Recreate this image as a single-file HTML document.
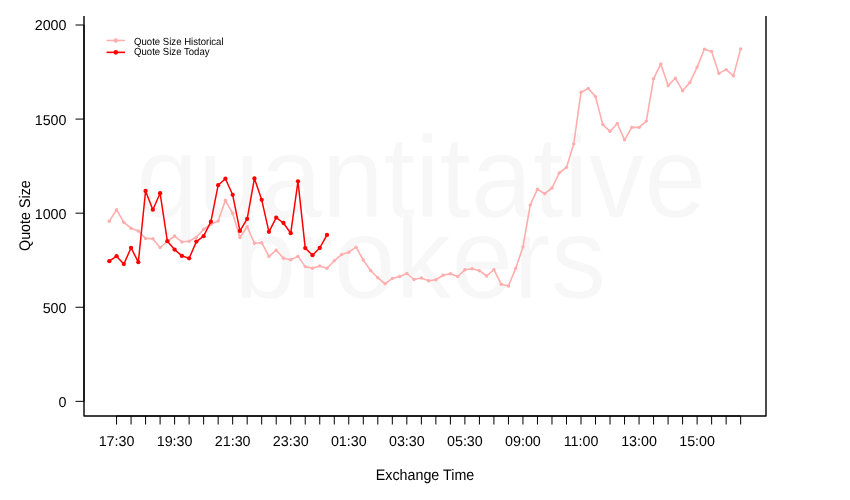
<!DOCTYPE html>
<html><head><meta charset="utf-8"><style>
html,body{margin:0;padding:0;background:#fff;width:850px;height:500px;overflow:hidden}
svg{display:block;font-family:"Liberation Sans",sans-serif;will-change:transform;text-rendering:geometricPrecision}
</style></head><body>
<svg width="850" height="500" viewBox="0 0 850 500">
<rect x="0" y="0" width="850" height="500" fill="#fff"/>
<g fill="#f7f7f7" stroke="#fff" stroke-width="0.6" font-family="Liberation Sans, sans-serif" font-size="116"><text transform="translate(135.9,217.2) scale(0.9614,1)">quantitative</text><text transform="translate(234.3,298.0) scale(0.9614,1)">brokers</text></g>
<path d="M84,16 V416 H766 V16" fill="none" stroke="#000" stroke-width="1.4" stroke-linejoin="round"/>
<path d="M84,25.00 V401.35" stroke="#000" stroke-width="1.2" fill="none"/>
<path d="M84,401.35 H75.5" stroke="#000" stroke-width="1" fill="none"/>
<path d="M84,307.26 H75.5" stroke="#000" stroke-width="1" fill="none"/>
<path d="M84,213.18 H75.5" stroke="#000" stroke-width="1" fill="none"/>
<path d="M84,119.09 H75.5" stroke="#000" stroke-width="1" fill="none"/>
<path d="M84,25.00 H75.5" stroke="#000" stroke-width="1" fill="none"/>
<path d="M116.56,416 H740.66" stroke="#000" stroke-width="1.2" fill="none"/>
<path d="M116.56,416 V424.5" stroke="#000" stroke-width="1" fill="none"/>
<path d="M131.07,416 V424.5" stroke="#000" stroke-width="1" fill="none"/>
<path d="M145.58,416 V424.5" stroke="#000" stroke-width="1" fill="none"/>
<path d="M160.10,416 V424.5" stroke="#000" stroke-width="1" fill="none"/>
<path d="M174.61,416 V424.5" stroke="#000" stroke-width="1" fill="none"/>
<path d="M189.13,416 V424.5" stroke="#000" stroke-width="1" fill="none"/>
<path d="M203.64,416 V424.5" stroke="#000" stroke-width="1" fill="none"/>
<path d="M218.15,416 V424.5" stroke="#000" stroke-width="1" fill="none"/>
<path d="M232.67,416 V424.5" stroke="#000" stroke-width="1" fill="none"/>
<path d="M247.18,416 V424.5" stroke="#000" stroke-width="1" fill="none"/>
<path d="M261.70,416 V424.5" stroke="#000" stroke-width="1" fill="none"/>
<path d="M276.21,416 V424.5" stroke="#000" stroke-width="1" fill="none"/>
<path d="M290.72,416 V424.5" stroke="#000" stroke-width="1" fill="none"/>
<path d="M305.24,416 V424.5" stroke="#000" stroke-width="1" fill="none"/>
<path d="M319.75,416 V424.5" stroke="#000" stroke-width="1" fill="none"/>
<path d="M334.27,416 V424.5" stroke="#000" stroke-width="1" fill="none"/>
<path d="M348.78,416 V424.5" stroke="#000" stroke-width="1" fill="none"/>
<path d="M363.29,416 V424.5" stroke="#000" stroke-width="1" fill="none"/>
<path d="M377.81,416 V424.5" stroke="#000" stroke-width="1" fill="none"/>
<path d="M392.32,416 V424.5" stroke="#000" stroke-width="1" fill="none"/>
<path d="M406.84,416 V424.5" stroke="#000" stroke-width="1" fill="none"/>
<path d="M421.35,416 V424.5" stroke="#000" stroke-width="1" fill="none"/>
<path d="M435.87,416 V424.5" stroke="#000" stroke-width="1" fill="none"/>
<path d="M450.38,416 V424.5" stroke="#000" stroke-width="1" fill="none"/>
<path d="M464.89,416 V424.5" stroke="#000" stroke-width="1" fill="none"/>
<path d="M479.41,416 V424.5" stroke="#000" stroke-width="1" fill="none"/>
<path d="M493.92,416 V424.5" stroke="#000" stroke-width="1" fill="none"/>
<path d="M508.44,416 V424.5" stroke="#000" stroke-width="1" fill="none"/>
<path d="M522.95,416 V424.5" stroke="#000" stroke-width="1" fill="none"/>
<path d="M537.46,416 V424.5" stroke="#000" stroke-width="1" fill="none"/>
<path d="M551.98,416 V424.5" stroke="#000" stroke-width="1" fill="none"/>
<path d="M566.49,416 V424.5" stroke="#000" stroke-width="1" fill="none"/>
<path d="M581.00,416 V424.5" stroke="#000" stroke-width="1" fill="none"/>
<path d="M595.52,416 V424.5" stroke="#000" stroke-width="1" fill="none"/>
<path d="M610.03,416 V424.5" stroke="#000" stroke-width="1" fill="none"/>
<path d="M624.55,416 V424.5" stroke="#000" stroke-width="1" fill="none"/>
<path d="M639.06,416 V424.5" stroke="#000" stroke-width="1" fill="none"/>
<path d="M653.57,416 V424.5" stroke="#000" stroke-width="1" fill="none"/>
<path d="M668.09,416 V424.5" stroke="#000" stroke-width="1" fill="none"/>
<path d="M682.60,416 V424.5" stroke="#000" stroke-width="1" fill="none"/>
<path d="M697.12,416 V424.5" stroke="#000" stroke-width="1" fill="none"/>
<path d="M711.63,416 V424.5" stroke="#000" stroke-width="1" fill="none"/>
<path d="M726.14,416 V424.5" stroke="#000" stroke-width="1" fill="none"/>
<path d="M740.66,416 V424.5" stroke="#000" stroke-width="1" fill="none"/>
<g font-family="Liberation Sans, sans-serif" font-size="14.3" fill="#000">
<text x="66.5" y="407.00" text-anchor="end">0</text>
<text x="66.5" y="313.00" text-anchor="end">500</text>
<text x="66.5" y="219.00" text-anchor="end">1000</text>
<text x="66.5" y="125.00" text-anchor="end">1500</text>
<text x="66.5" y="30.00" text-anchor="end">2000</text>
<text x="116.56" y="445.7" text-anchor="middle">17:30</text>
<text x="174.61" y="445.7" text-anchor="middle">19:30</text>
<text x="232.67" y="445.7" text-anchor="middle">21:30</text>
<text x="290.72" y="445.7" text-anchor="middle">23:30</text>
<text x="348.78" y="445.7" text-anchor="middle">01:30</text>
<text x="406.84" y="445.7" text-anchor="middle">03:30</text>
<text x="464.89" y="445.7" text-anchor="middle">05:30</text>
<text x="522.95" y="445.7" text-anchor="middle">09:00</text>
<text x="581.00" y="445.7" text-anchor="middle">11:00</text>
<text x="639.06" y="445.7" text-anchor="middle">13:00</text>
<text x="697.12" y="445.7" text-anchor="middle">15:00</text>
<text transform="translate(425,480) scale(1,1.07)" text-anchor="middle">Exchange Time</text>
<text transform="translate(30.0,215.6) rotate(-90) scale(1,1.07)" text-anchor="middle">Quote Size</text>
</g>
<g font-family="Liberation Sans, sans-serif" font-size="9.6" fill="#000"><text transform="translate(134,44.6) scale(1,1.07)">Quote Size Historical</text><text transform="translate(134,54.9) scale(1,1.07)">Quote Size Today</text></g>
<path d="M106.5,40.45 H125" stroke="#ffadad" stroke-width="1.5"/>
<circle cx="115.8" cy="40.45" r="2.2" fill="#ffadad"/>
<path d="M106.5,52.35 H125" stroke="#ff0000" stroke-width="1.6"/>
<circle cx="115.8" cy="52.35" r="2.3" fill="#ff0000"/>
<polyline points="109.30,221.30 116.56,209.70 123.81,222.30 131.07,228.20 138.33,231.00 145.58,238.40 152.84,238.70 160.10,247.50 167.36,241.50 174.61,236.00 181.87,242.00 189.13,241.30 196.38,237.20 203.64,229.30 210.90,224.20 218.15,221.00 225.41,200.30 232.67,213.30 239.93,237.50 247.18,226.70 254.44,243.30 261.70,242.70 268.95,256.40 276.21,250.20 283.47,258.20 290.72,259.80 297.98,256.40 305.24,266.60 312.50,268.20 319.75,266.00 327.01,268.30 334.27,260.80 341.52,254.60 348.78,252.20 356.04,247.20 363.29,260.00 370.55,270.50 377.81,277.70 385.07,283.80 392.32,278.40 399.58,276.50 406.84,273.50 414.09,279.50 421.35,278.00 428.61,280.70 435.87,279.80 443.12,275.30 450.38,273.80 457.64,276.50 464.89,269.80 472.15,268.80 479.41,270.70 486.66,276.00 493.92,269.60 501.18,284.20 508.44,286.00 515.69,268.40 522.95,247.00 530.21,205.10 537.46,189.20 544.72,193.70 551.98,188.00 559.23,173.00 566.49,167.40 573.75,143.90 581.00,92.20 588.26,88.50 595.52,96.60 602.78,124.60 610.03,131.30 617.29,123.50 624.55,139.80 631.80,127.40 639.06,127.40 646.32,121.10 653.57,78.80 660.83,63.90 668.09,85.60 675.35,78.30 682.60,90.70 689.86,82.60 697.12,67.10 704.37,49.20 711.63,51.40 718.89,73.40 726.14,69.60 733.40,75.90 740.66,48.90" fill="none" stroke="#ffadad" stroke-width="1.6" stroke-linejoin="round"/>
<g fill="#ffadad"><circle cx="109.30" cy="221.30" r="1.70"/><circle cx="116.56" cy="209.70" r="1.70"/><circle cx="123.81" cy="222.30" r="1.70"/><circle cx="131.07" cy="228.20" r="1.70"/><circle cx="138.33" cy="231.00" r="1.70"/><circle cx="145.58" cy="238.40" r="1.70"/><circle cx="152.84" cy="238.70" r="1.70"/><circle cx="160.10" cy="247.50" r="1.70"/><circle cx="167.36" cy="241.50" r="1.70"/><circle cx="174.61" cy="236.00" r="1.70"/><circle cx="181.87" cy="242.00" r="1.70"/><circle cx="189.13" cy="241.30" r="1.70"/><circle cx="196.38" cy="237.20" r="1.70"/><circle cx="203.64" cy="229.30" r="1.70"/><circle cx="210.90" cy="224.20" r="1.70"/><circle cx="218.15" cy="221.00" r="1.70"/><circle cx="225.41" cy="200.30" r="1.70"/><circle cx="232.67" cy="213.30" r="1.70"/><circle cx="239.93" cy="237.50" r="1.70"/><circle cx="247.18" cy="226.70" r="1.70"/><circle cx="254.44" cy="243.30" r="1.70"/><circle cx="261.70" cy="242.70" r="1.70"/><circle cx="268.95" cy="256.40" r="1.70"/><circle cx="276.21" cy="250.20" r="1.70"/><circle cx="283.47" cy="258.20" r="1.70"/><circle cx="290.72" cy="259.80" r="1.70"/><circle cx="297.98" cy="256.40" r="1.70"/><circle cx="305.24" cy="266.60" r="1.70"/><circle cx="312.50" cy="268.20" r="1.70"/><circle cx="319.75" cy="266.00" r="1.70"/><circle cx="327.01" cy="268.30" r="1.70"/><circle cx="334.27" cy="260.80" r="1.70"/><circle cx="341.52" cy="254.60" r="1.70"/><circle cx="348.78" cy="252.20" r="1.70"/><circle cx="356.04" cy="247.20" r="1.70"/><circle cx="363.29" cy="260.00" r="1.70"/><circle cx="370.55" cy="270.50" r="1.70"/><circle cx="377.81" cy="277.70" r="1.70"/><circle cx="385.07" cy="283.80" r="1.70"/><circle cx="392.32" cy="278.40" r="1.70"/><circle cx="399.58" cy="276.50" r="1.70"/><circle cx="406.84" cy="273.50" r="1.70"/><circle cx="414.09" cy="279.50" r="1.70"/><circle cx="421.35" cy="278.00" r="1.70"/><circle cx="428.61" cy="280.70" r="1.70"/><circle cx="435.87" cy="279.80" r="1.70"/><circle cx="443.12" cy="275.30" r="1.70"/><circle cx="450.38" cy="273.80" r="1.70"/><circle cx="457.64" cy="276.50" r="1.70"/><circle cx="464.89" cy="269.80" r="1.70"/><circle cx="472.15" cy="268.80" r="1.70"/><circle cx="479.41" cy="270.70" r="1.70"/><circle cx="486.66" cy="276.00" r="1.70"/><circle cx="493.92" cy="269.60" r="1.70"/><circle cx="501.18" cy="284.20" r="1.70"/><circle cx="508.44" cy="286.00" r="1.70"/><circle cx="515.69" cy="268.40" r="1.70"/><circle cx="522.95" cy="247.00" r="1.70"/><circle cx="530.21" cy="205.10" r="1.70"/><circle cx="537.46" cy="189.20" r="1.70"/><circle cx="544.72" cy="193.70" r="1.70"/><circle cx="551.98" cy="188.00" r="1.70"/><circle cx="559.23" cy="173.00" r="1.70"/><circle cx="566.49" cy="167.40" r="1.70"/><circle cx="573.75" cy="143.90" r="1.70"/><circle cx="581.00" cy="92.20" r="1.70"/><circle cx="588.26" cy="88.50" r="1.70"/><circle cx="595.52" cy="96.60" r="1.70"/><circle cx="602.78" cy="124.60" r="1.70"/><circle cx="610.03" cy="131.30" r="1.70"/><circle cx="617.29" cy="123.50" r="1.70"/><circle cx="624.55" cy="139.80" r="1.70"/><circle cx="631.80" cy="127.40" r="1.70"/><circle cx="639.06" cy="127.40" r="1.70"/><circle cx="646.32" cy="121.10" r="1.70"/><circle cx="653.57" cy="78.80" r="1.70"/><circle cx="660.83" cy="63.90" r="1.70"/><circle cx="668.09" cy="85.60" r="1.70"/><circle cx="675.35" cy="78.30" r="1.70"/><circle cx="682.60" cy="90.70" r="1.70"/><circle cx="689.86" cy="82.60" r="1.70"/><circle cx="697.12" cy="67.10" r="1.70"/><circle cx="704.37" cy="49.20" r="1.70"/><circle cx="711.63" cy="51.40" r="1.70"/><circle cx="718.89" cy="73.40" r="1.70"/><circle cx="726.14" cy="69.60" r="1.70"/><circle cx="733.40" cy="75.90" r="1.70"/><circle cx="740.66" cy="48.90" r="1.70"/></g>
<polyline points="109.30,261.20 116.56,256.20 123.81,264.10 131.07,247.80 138.33,262.20 145.58,191.00 152.84,209.70 160.10,193.20 167.36,241.20 174.61,249.60 181.87,255.90 189.13,258.30 196.38,241.60 203.64,236.20 210.90,221.70 218.15,185.20 225.41,178.70 232.67,194.80 239.93,230.90 247.18,218.90 254.44,178.40 261.70,199.80 268.95,231.80 276.21,217.60 283.47,223.00 290.72,233.20 297.98,181.30 305.24,248.10 312.50,255.20 319.75,248.00 327.01,234.90" fill="none" stroke="#ff0000" stroke-width="1.5" stroke-linejoin="round"/>
<g fill="#ff0000"><circle cx="109.30" cy="261.20" r="2.15"/><circle cx="116.56" cy="256.20" r="2.15"/><circle cx="123.81" cy="264.10" r="2.15"/><circle cx="131.07" cy="247.80" r="2.15"/><circle cx="138.33" cy="262.20" r="2.15"/><circle cx="145.58" cy="191.00" r="2.15"/><circle cx="152.84" cy="209.70" r="2.15"/><circle cx="160.10" cy="193.20" r="2.15"/><circle cx="167.36" cy="241.20" r="2.15"/><circle cx="174.61" cy="249.60" r="2.15"/><circle cx="181.87" cy="255.90" r="2.15"/><circle cx="189.13" cy="258.30" r="2.15"/><circle cx="196.38" cy="241.60" r="2.15"/><circle cx="203.64" cy="236.20" r="2.15"/><circle cx="210.90" cy="221.70" r="2.15"/><circle cx="218.15" cy="185.20" r="2.15"/><circle cx="225.41" cy="178.70" r="2.15"/><circle cx="232.67" cy="194.80" r="2.15"/><circle cx="239.93" cy="230.90" r="2.15"/><circle cx="247.18" cy="218.90" r="2.15"/><circle cx="254.44" cy="178.40" r="2.15"/><circle cx="261.70" cy="199.80" r="2.15"/><circle cx="268.95" cy="231.80" r="2.15"/><circle cx="276.21" cy="217.60" r="2.15"/><circle cx="283.47" cy="223.00" r="2.15"/><circle cx="290.72" cy="233.20" r="2.15"/><circle cx="297.98" cy="181.30" r="2.15"/><circle cx="305.24" cy="248.10" r="2.15"/><circle cx="312.50" cy="255.20" r="2.15"/><circle cx="319.75" cy="248.00" r="2.15"/><circle cx="327.01" cy="234.90" r="2.15"/></g>
</svg>
</body></html>
